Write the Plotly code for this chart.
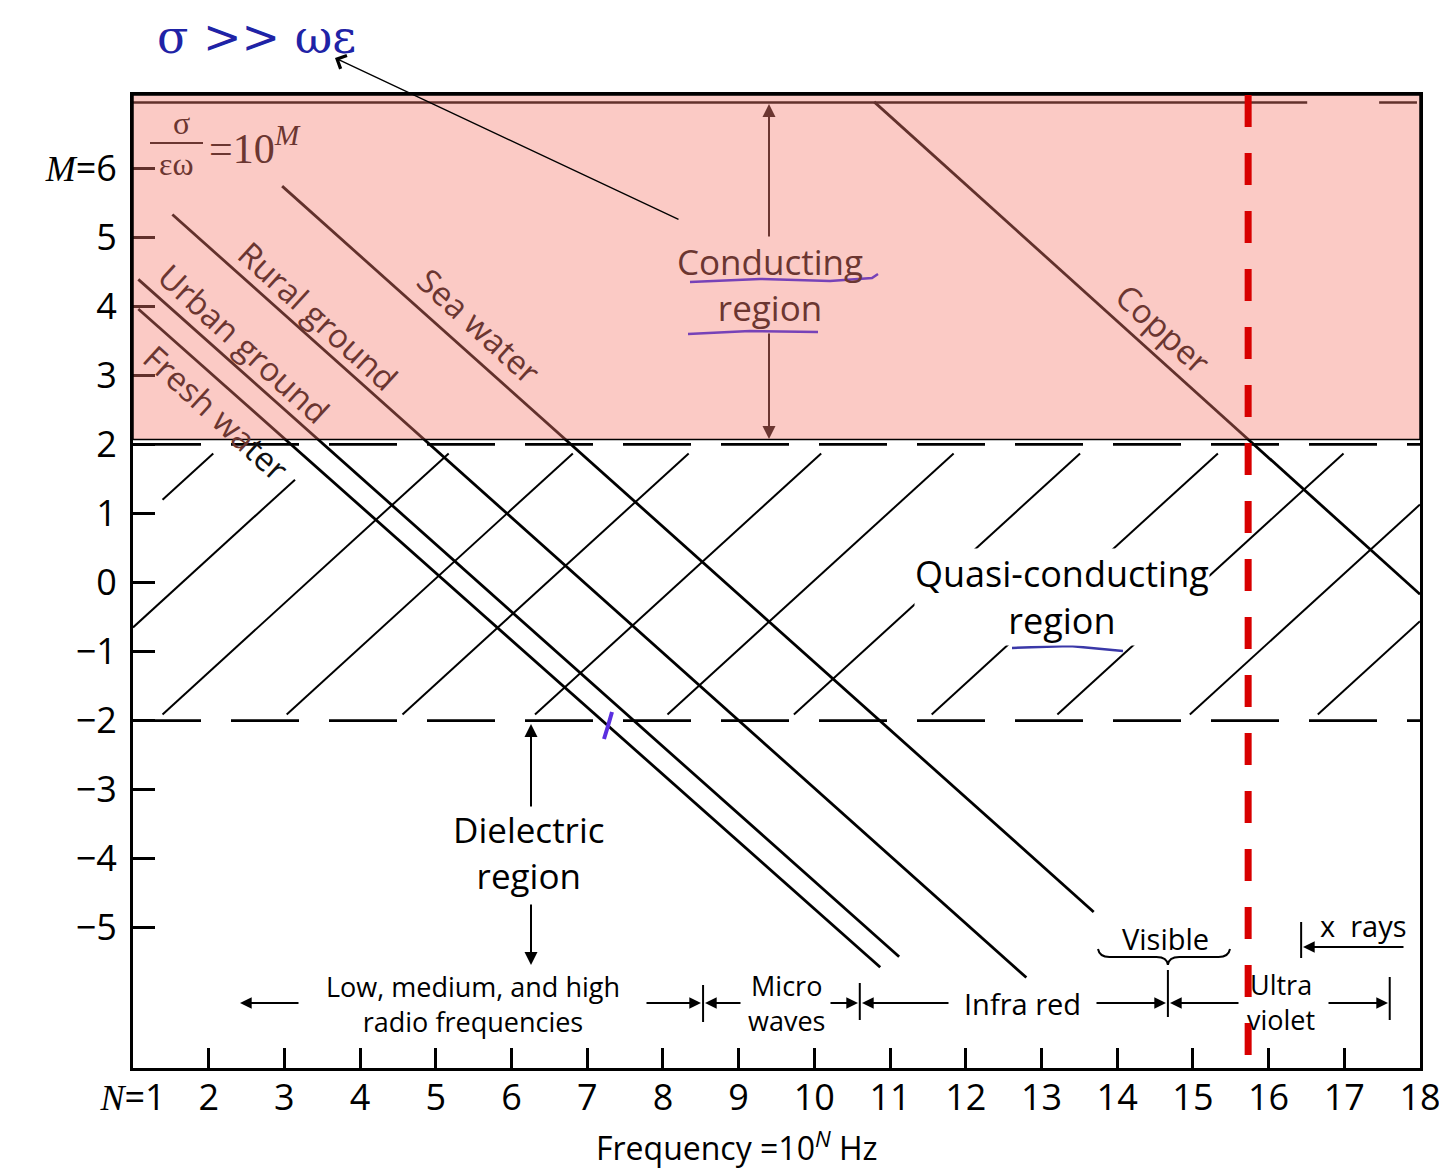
import plotly.graph_objects as go

# ---------------- data ----------------
x_tick_vals = list(range(1, 19))
x_tick_text = ['<span style="font-family:Liberation Serif"><i>N</i></span>=1'] + [str(v) for v in range(2, 19)]
y_tick_vals = [6, 5, 4, 3, 2, 1, 0, -1, -2, -3, -4, -5]
y_tick_text = ['<span style="font-family:Liberation Serif"><i>M</i></span>=6',
               '5', '4', '3', '2', '1', '0', '−1', '−2', '−3', '−4', '−5']

materials = ['Fresh water', 'Urban ground', 'Rural ground', 'Sea water', 'Copper']
material_N_start = [1.07, 1.07, 1.52, 2.97, 10.79]
material_M_start = [3.96, 4.39, 5.33, 5.74, 6.96]
material_N_end = [10.87, 11.12, 12.80, 13.69, 18.00]
material_M_end = [-5.57, -5.42, -5.72, -4.77, -0.17]

region_bounds_M = [2, -2]          # conducting / dielectric limits

# quasi-conducting hatching: lines M = N - k
hatch_offsets = [0.19, 1.65, 3.30, 4.94, 6.47, 8.22, 9.97, 11.64, 13.46, 15.12, 16.87, 18.56]
hatch_M_low = [1.20, -0.65, -1.91, -1.91, -1.91, -1.91, -1.91, -1.91, -1.91, -1.91, -1.91, -1.91]
hatch_M_high = [1.87, 1.49, 1.87, 1.87, 1.87, 1.87, 1.87, 1.87, 1.87, 1.87, 1.87, 1.87]

frame_top_M = 6.95
frame_top_segments_N = [[1.0, 16.51], [17.46, 17.96]]

conducting_limit_N = 15.73          # red dashed line

band_edges_N = [8.53, 10.60, 14.67, 17.60]
xray_edge_N = 16.43

# ---------------- geometry helpers (reference pixel -> data) ----------------
OFF = 8                              # page body margin of the browser
FIG_W, FIG_H = 1447 - OFF, 1168 - OFF
PLOT_L, PLOT_R, PLOT_T, PLOT_B = 133, 1420, 95, 1068   # in reference page pixels
N_RANGE = [1.0, 18.0]
M_RANGE = [-7.03, 7.06]


def N_at(px):
    return N_RANGE[0] + (px - PLOT_L) * (N_RANGE[1] - N_RANGE[0]) / (PLOT_R - PLOT_L)


def M_at(py):
    return M_RANGE[1] - (py - PLOT_T) * (M_RANGE[1] - M_RANGE[0]) / (PLOT_B - PLOT_T)


def px_paper(px):
    return (px - PLOT_L) / (PLOT_R - PLOT_L)


def py_paper(py):
    return (PLOT_B - py) / (PLOT_B - PLOT_T)


BROWN = '#6b3631'
FONT = 'Open Sans'
SERIF = 'Liberation Serif'

fig = go.Figure()

# top border of original chart
for seg in frame_top_segments_N:
    fig.add_trace(go.Scatter(x=seg, y=[frame_top_M, frame_top_M], mode='lines',
                             line=dict(color='black', width=2.5), hoverinfo='skip'))

# hatch lines
for k, lo, hi in zip(hatch_offsets, hatch_M_low, hatch_M_high):
    hi = min(hi, N_RANGE[1] - k)
    lo = max(lo, N_RANGE[0] - k)
    fig.add_trace(go.Scatter(x=[lo + k, hi + k], y=[lo, hi], mode='lines',
                             line=dict(color='black', width=2), hoverinfo='skip'))

# region boundaries (dashed)
for m in region_bounds_M:
    fig.add_trace(go.Scatter(x=N_RANGE, y=[m, m], mode='lines',
                             line=dict(color='black', width=2.6, dash='68px,30px'),
                             hoverinfo='skip'))

# material lines
for name, n0, m0, n1, m1 in zip(materials, material_N_start, material_M_start,
                                 material_N_end, material_M_end):
    fig.add_trace(go.Scatter(x=[n0, n1], y=[m0, m1], mode='lines', name=name,
                             line=dict(color='black', width=2.8), hoverinfo='skip'))

shapes = []
# conducting region overlay
shapes.append(dict(type='rect', xref='x', yref='y', x0=N_RANGE[0], x1=N_RANGE[1],
                   y0=2.07, y1=M_RANGE[1], fillcolor='rgba(244,122,111,0.40)',
                   line=dict(color='black', width=1.5), layer='above'))
# red dashed line
shapes.append(dict(type='line', xref='x', yref='paper', x0=conducting_limit_N,
                   x1=conducting_limit_N, y0=1.0, y1=py_paper(1062),
                   line=dict(color='#d80000', width=7, dash='32px,26px'), layer='above'))

# band edge bars
bar_spans = [(985, 1022), (983, 1020), (970, 1017), (977, 1020)]
for n, (ya, yb) in zip(band_edges_N, bar_spans):
    shapes.append(dict(type='line', xref='x', yref='y', x0=n, x1=n, y0=M_at(ya), y1=M_at(yb),
                       line=dict(color='black', width=2), layer='above'))
shapes.append(dict(type='line', xref='x', yref='y', x0=xray_edge_N, x1=xray_edge_N,
                   y0=M_at(922), y1=M_at(958), line=dict(color='black', width=2), layer='above'))

# visible brace
bl, br, bc = N_at(1098), N_at(1230), band_edges_N[2]
yt, ym, yd = M_at(949), M_at(957), M_at(965)
brace = (f'M {bl},{yt} Q {bl + 0.02},{ym} {bl + 0.15},{ym} L {bc - 0.15},{ym} '
         f'Q {bc - 0.01},{ym} {bc},{yd} Q {bc + 0.01},{ym} {bc + 0.15},{ym} '
         f'L {br - 0.15},{ym} Q {br - 0.02},{ym} {br},{yt}')
shapes.append(dict(type='path', xref='x', yref='y', path=brace,
                   line=dict(color='black', width=2), layer='above'))

# fraction bar of formula
shapes.append(dict(type='line', xref='x', yref='y', x0=N_at(150), x1=N_at(203),
                   y0=M_at(143), y1=M_at(143), line=dict(color=BROWN, width=2.2), layer='above'))


def hand_line(pts, color, width):
    path = 'M ' + ' L '.join(f'{N_at(px)},{M_at(py)}' for px, py in pts)
    return dict(type='path', xref='x', yref='y', path=path,
                line=dict(color=color, width=width), layer='above')


shapes.append(hand_line([(690, 282), (760, 279), (830, 281), (872, 278), (878, 274)], '#7642b8', 2.5))
shapes.append(hand_line([(688, 334), (750, 331), (818, 332)], '#7642b8', 2.5))
shapes.append(hand_line([(933, 593), (1000, 591), (1080, 592), (1150, 590), (1178, 589), (1181, 583)], '#3a38a8', 2.5))
shapes.append(hand_line([(1012, 648), (1070, 646), (1123, 651)], '#3a38a8', 2.5))
shapes.append(hand_line([(604, 739), (608, 726), (612, 712)], '#5a2ee0', 4))

ann = []


def txt(px, py, text, size=35, color='black', angle=0, family=FONT, bg=None,
        xanchor='center', yanchor='middle'):
    d = dict(x=N_at(px), y=M_at(py), xref='x', yref='y', text=text, showarrow=False,
             textangle=angle, xanchor=xanchor, yanchor=yanchor,
             font=dict(family=family, size=size, color=color))
    if bg:
        d['bgcolor'] = bg
        d['borderpad'] = 0
    ann.append(d)


ANG = 42.4
txt(216, 412, 'Fresh wa<span style="color:#111111">ter</span>', 33, BROWN, ANG)
txt(244, 343, 'Urban ground', 33, BROWN, ANG)
txt(318, 315, 'Rural ground', 33, BROWN, ANG)
txt(479, 325, 'Sea water', 33, BROWN, ANG)
txt(1163, 328, 'Copper', 33, BROWN, ANG)

txt(770, 284, 'Conducting<br>region', 35, BROWN)
txt(1062, 597, 'Quasi-conducting<br>region', 36, 'black', bg='white')
txt(529, 852, 'Dielectric<br>region', 35)

txt(473, 1004, 'Low, medium, and high<br>radio frequencies', 27)
txt(786, 1003, 'Micro<br>waves', 27)
txt(1022, 1003, 'Infra red', 29)
txt(1165, 938, 'Visible', 29)
txt(1281, 1002, 'Ultra<br>violet', 27)
txt(1363, 925, 'x  rays', 29)

# formula sigma / (eps omega) = 10^M
txt(181, 143, 'σ', 32, BROWN, family=SERIF, yanchor='bottom')
txt(176, 144, 'εω', 32, BROWN, family=SERIF, yanchor='top')
txt(207, 145, '=10<sup><i>M</i></sup>', 42, BROWN, family=SERIF, xanchor='left')


def arrow(px_head, py_head, px_tail, py_tail, color='black', width=1.8, head=2, size=1.3):
    ann.append(dict(x=N_at(px_head), y=M_at(py_head), ax=N_at(px_tail), ay=M_at(py_tail),
                    xref='x', yref='y', axref='x', ayref='y', text='', showarrow=True,
                    arrowhead=head, arrowsize=size, arrowwidth=width, arrowcolor=color,
                    standoff=0, startstandoff=0))


# conducting region arrows
arrow(769, 104, 769, 238, BROWN, 2)
arrow(769, 439, 769, 332, BROWN, 2)
# dielectric arrows
arrow(531, 724, 531, 808, 'black', 2)
arrow(531, 965, 531, 903, 'black', 2)
# band arrows
yb = 1003
arrow(240, yb, 300, yb)
arrow(701, yb, 645, yb)
arrow(705, yb, 742, yb)
arrow(858, yb, 829, yb)
arrow(862, yb, 950, yb)
arrow(1166, yb, 1095, yb)
arrow(1170, yb, 1240, yb)
arrow(1388, yb, 1327, yb)
arrow(1303, 947, 1405, 947)

# header text and arrow (outside plot)
ann.append(dict(x=px_paper(256), y=py_paper(OFF), xref='paper', yref='paper',
                text='σ >> ωε', showarrow=False, xanchor='center', yanchor='top',
                font=dict(family='DejaVu Serif', size=46, color='#1f23a6')))
ann.append(dict(x=px_paper(335), y=py_paper(58), xref='paper', yref='paper', text='',
                showarrow=True, ax=345, ay=162, arrowhead=4, arrowsize=2.2,
                arrowwidth=1.3, arrowcolor='black', standoff=0))
# x axis title
ann.append(dict(x=px_paper(737), y=py_paper(1146), xref='paper', yref='paper',
                text='Frequency =10<sup><i>N</i></sup> Hz', showarrow=False,
                xanchor='center', yanchor='middle', font=dict(family=FONT, size=32, color='black')))

fig.update_layout(
    width=FIG_W, height=FIG_H,
    margin=dict(l=PLOT_L - OFF, r=FIG_W - (PLOT_R - OFF), t=PLOT_T - OFF,
                b=FIG_H - (PLOT_B - OFF), pad=0),
    paper_bgcolor='white', plot_bgcolor='white', showlegend=False,
    shapes=shapes, annotations=ann,
    xaxis=dict(range=N_RANGE, showgrid=False, zeroline=False, showline=True, linecolor='black',
               linewidth=3, mirror=True, ticks='inside', ticklen=20, tickwidth=2.5,
               tickcolor='black', tickvals=x_tick_vals, ticktext=x_tick_text,
               tickfont=dict(family=FONT, size=36, color='black'), ticklabelstandoff=-4,
               automargin=False),
    yaxis=dict(range=M_RANGE, showgrid=False, zeroline=False, showline=True, linecolor='black',
               linewidth=3, mirror=True, ticks='inside', ticklen=22, tickwidth=2.5,
               tickcolor='black', tickvals=y_tick_vals, ticktext=y_tick_text,
               tickfont=dict(family=FONT, size=36, color='black'), ticklabelstandoff=6,
               automargin=False),
)

fig.write_html('out.html')
